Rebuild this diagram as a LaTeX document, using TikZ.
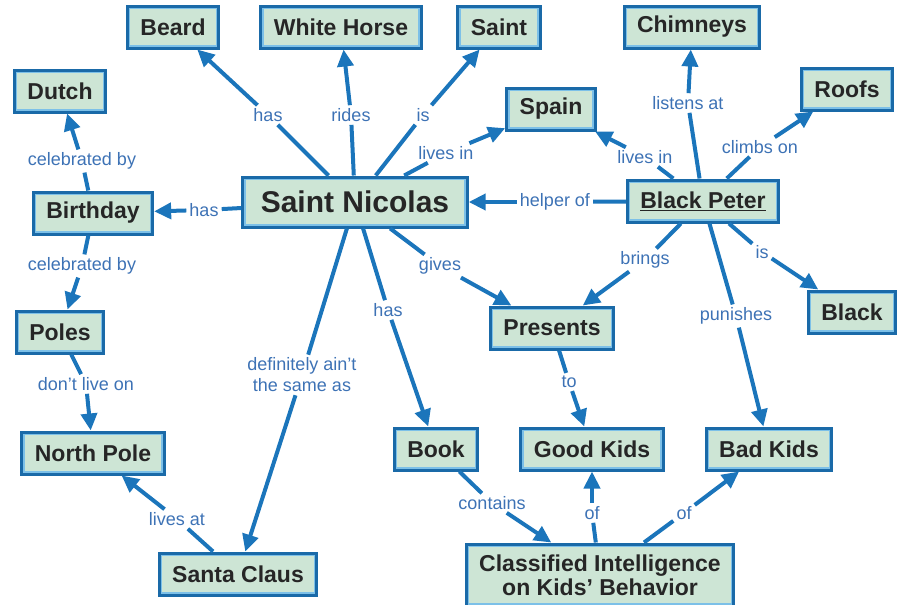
\documentclass[tikz,border=0pt]{standalone}
\usepackage{fontspec}
\setmainfont{Liberation Sans}
\usepackage{xcolor}
\usepackage{tikz}
\usetikzlibrary{arrows.meta, positioning}

\definecolor{conceptborder}{HTML}{1A6AA8}
\definecolor{conceptinner}{HTML}{7CC0E8}
\definecolor{conceptfill}{HTML}{CDE5D5}
\definecolor{linkline}{HTML}{1B75BB}
\definecolor{linktext}{HTML}{3D72B5}

\tikzset{
  concept/.style={draw=conceptborder, line width=3pt, fill=conceptfill,
    path picture={\draw[conceptinner, line width=6pt]
      (path picture bounding box.south west) rectangle (path picture bounding box.north east);},
    font=\bfseries\fontsize{23}{24}\selectfont, text=black!85,
    minimum height=42pt, inner xsep=13pt},
  phrase/.style={text=linktext, font=\fontsize{18}{21}\selectfont, inner sep=3pt},
  rel/.style={draw=linkline, line width=4pt},
  relarrow/.style={rel, -{Triangle[length=17pt, width=16pt]}}
}

\begin{document}
\begin{tikzpicture}[x=1pt, y=-1pt]
  \useasboundingbox (0,0) rectangle (897,605);
  % Concepts
  \node[concept, font=\bfseries\fontsize{30}{32}\selectfont, minimum height=50pt, inner xsep=18pt] (nicolas) at (355,202) {Saint Nicolas};
  \node[concept] (beard) at (173,27) {Beard};
  \node[concept] (horse) at (341,27) {White Horse};
  \node[concept] (saint) at (499,27) {Saint};
  \node[concept] (chimneys) at (692,27) {Chimneys};
  \node[concept] (roofs) at (847,89) {Roofs};
  \node[concept] (dutch) at (60,91) {Dutch};
  \node[concept] (spain) at (551,109) {Spain};
  \node[concept] (peter) at (703,201) {\underline{Black Peter}};
  \node[concept] (birthday) at (93,213) {Birthday};
  \node[concept] (black) at (852,312) {Black};
  \node[concept] (presents) at (552,328) {Presents};
  \node[concept] (poles) at (60,332) {Poles};
  \node[concept] (northpole) at (93,453) {North Pole};
  \node[concept] (book) at (436,449) {Book};
  \node[concept] (goodkids) at (592,449) {Good Kids};
  \node[concept] (badkids) at (769,449) {Bad Kids};
  \node[concept] (santa) at (238,574) {Santa Claus};
  \node[concept, align=center, minimum height=62pt] (intel) at (600,575) {Classified Intelligence\\on Kids' Behavior};
  % Linking phrases
  \node[phrase] (hasbeard) at (268,115) {has};
  \node[phrase] (rides) at (351,115) {rides};
  \node[phrase] (issaint) at (423,115) {is};
  \node[phrase] (nicolaslives) at (446,153) {lives in};
  \node[phrase] (peterlives) at (645,157) {lives in};
  \node[phrase] (listens) at (688,103) {listens at};
  \node[phrase] (climbs) at (760,147) {climbs on};
  \node[phrase] (helper) at (555,202) {helper of};
  \node[phrase] (hasbirthday) at (204,210) {has};
  \node[phrase] (celebdutch) at (82,161) {celebrated by};
  \node[phrase] (celebpoles) at (82,266) {celebrated by};
  \node[phrase] (gives) at (440,266) {gives};
  \node[phrase] (brings) at (645,260) {brings};
  \node[phrase] (isblack) at (762,252) {is};
  \node[phrase] (hasbook) at (388,310) {has};
  \node[phrase] (punishes) at (736,316) {punishes};
  \node[phrase, align=center] (notsame) at (302,375) {definitely ain't\\the same as};
  \node[phrase] (dontlive) at (86,384) {don't live on};
  \node[phrase] (togood) at (569,382) {to};
  \node[phrase] (livesat) at (177,519) {lives at};
  \node[phrase] (contains) at (492,503) {contains};
  \node[phrase] (ofgood) at (592,513) {of};
  \node[phrase] (ofbad) at (684,513) {of};
  % Links from Saint Nicolas
  \draw[rel] (nicolas) -- (hasbeard); \draw[relarrow] (hasbeard) -- (beard);
  \draw[rel] (nicolas) -- (rides); \draw[relarrow] (rides) -- (horse);
  \draw[rel] (nicolas) -- (issaint); \draw[relarrow] (issaint) -- (saint);
  \draw[rel] (nicolas) -- (nicolaslives); \draw[relarrow] (nicolaslives) -- (spain);
  \draw[rel] (nicolas) -- (hasbirthday); \draw[relarrow] (hasbirthday) -- (birthday);
  \draw[rel] (nicolas) -- (notsame); \draw[relarrow] (notsame) -- (santa);
  \draw[rel] (nicolas) -- (hasbook); \draw[relarrow] (hasbook) -- (book);
  \draw[rel] (nicolas) -- (gives); \draw[relarrow] (gives) -- (presents);
  % Links from Black Peter
  \draw[rel] (peter) -- (peterlives); \draw[relarrow] (peterlives) -- (spain);
  \draw[rel] (peter) -- (listens); \draw[relarrow] (listens) -- (chimneys);
  \draw[rel] (peter) -- (climbs); \draw[relarrow] (climbs) -- (roofs);
  \draw[rel] (peter) -- (helper); \draw[relarrow] (helper) -- (nicolas);
  \draw[rel] (peter) -- (brings); \draw[relarrow] (brings) -- (presents);
  \draw[rel] (peter) -- (isblack); \draw[relarrow] (isblack) -- (black);
  \draw[rel] (peter) -- (punishes); \draw[relarrow] (punishes) -- (badkids);
  % Other links
  \draw[rel] (birthday) -- (celebdutch); \draw[relarrow] (celebdutch) -- (dutch);
  \draw[rel] (birthday) -- (celebpoles); \draw[relarrow] (celebpoles) -- (poles);
  \draw[rel] (poles) -- (dontlive); \draw[relarrow] (dontlive) -- (northpole);
  \draw[rel] (santa) -- (livesat); \draw[relarrow] (livesat) -- (northpole);
  \draw[rel] (presents) -- (togood); \draw[relarrow] (togood) -- (goodkids);
  \draw[rel] (book) -- (contains); \draw[relarrow] (contains) -- (intel);
  \draw[rel] (intel) -- (ofgood); \draw[relarrow] (ofgood) -- (goodkids);
  \draw[rel] (intel) -- (ofbad); \draw[relarrow] (ofbad) -- (badkids);
\end{tikzpicture}
\end{document}
